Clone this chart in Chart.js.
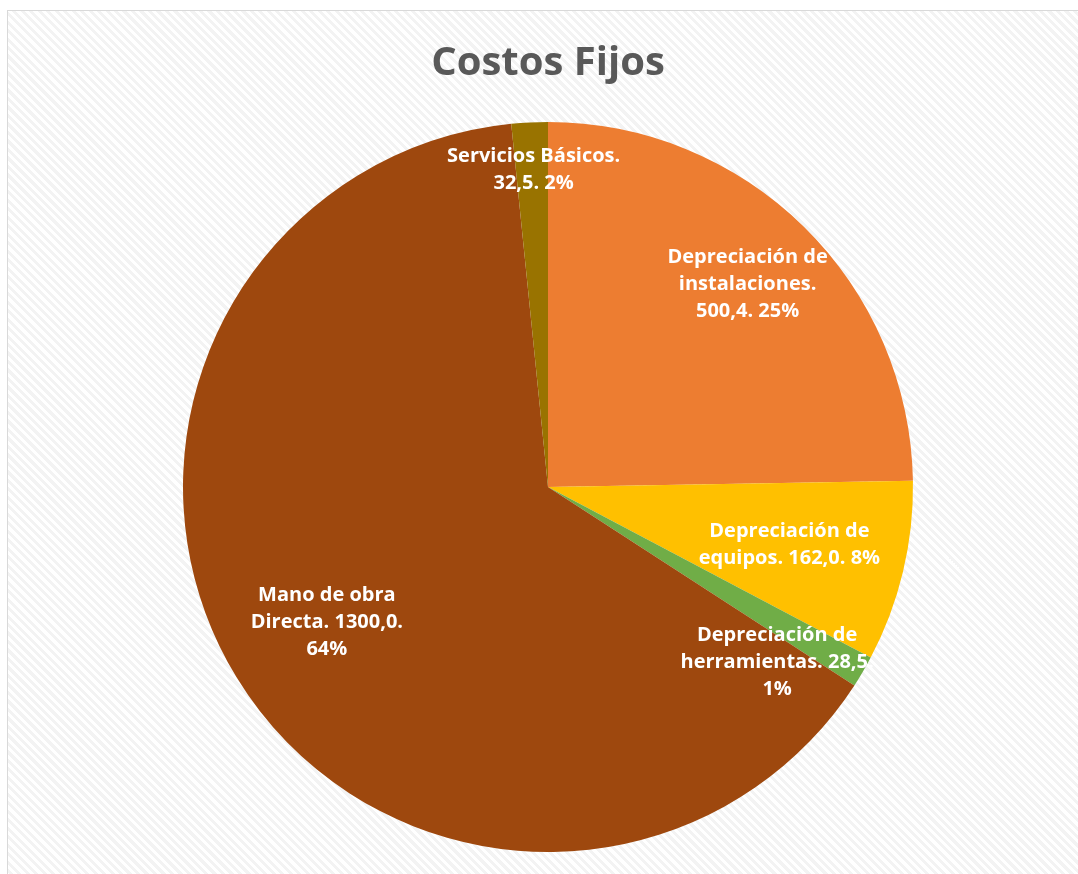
<!DOCTYPE html>
<html>
<head>
<meta charset="utf-8">
<script src="https://cdn.jsdelivr.net/npm/chart.js@4"></script>
<style>
  html, body { margin: 0; padding: 0; width: 1078px; height: 874px; overflow: hidden; background: #fff; }
  #marco {
    position: absolute; left: 7px; top: 10px; width: 1100px; height: 900px;
    border: 1px solid #d9d9d9;
    background: repeating-linear-gradient(45deg, #ffffff 0px, #ffffff 3px, #f3f3f3 3px, #f3f3f3 6px);
  }
  #grafico { position: absolute; left: 0; top: 0; }
</style>
</head>
<body>
<div id="marco"></div>
<canvas id="grafico" width="1078" height="874"></canvas>
<script>
// Datos del gráfico
const categorias = [
  'Depreciación de instalaciones',
  'Depreciación de equipos',
  'Depreciación de herramientas',
  'Mano de obra Directa',
  'Servicios Básicos'
];
const valores = [500.4, 162.0, 28.5, 1300.0, 32.5];
const colores = ['#ED7D31', '#FFC000', '#70AD47', '#9E480E', '#997300'];

// líneas de cada etiqueta (texto como en el original)
const etiquetas = [
  ['Depreciación de', 'instalaciones.', '500,4. 25%'],
  ['Depreciación de', 'equipos. 162,0. 8%'],
  ['Depreciación de', 'herramientas. 28,5.', '1%'],
  ['Mano de obra', 'Directa. 1300,0.', '64%'],
  ['Servicios Básicos.', '32,5. 2%']
];

// ubicación de cada etiqueta: fracción del radio y ajuste de ángulo (grados)
const ubicacion = [
  { r: 0.78, a: 0 },
  { r: 0.68, a: 0 },
  { r: 0.79, a: 7 },
  { r: 0.71, a: 0 },
  { r: 0.87, a: 0.3 }
];

const etiquetasPlugin = {
  id: 'etiquetas',
  afterDatasetsDraw(chart) {
    const ctx = chart.ctx;
    const meta = chart.getDatasetMeta(0);
    ctx.save();
    ctx.font = 'bold 20px "Open Sans", sans-serif';
    ctx.fillStyle = '#ffffff';
    ctx.textAlign = 'center';
    ctx.textBaseline = 'middle';
    meta.data.forEach((arc, i) => {
      const p = arc.getProps(['x', 'y', 'startAngle', 'endAngle', 'outerRadius'], true);
      const ang = (p.startAngle + p.endAngle) / 2 + ubicacion[i].a * Math.PI / 180;
      const cx = p.x + Math.cos(ang) * p.outerRadius * ubicacion[i].r;
      const cy = p.y + Math.sin(ang) * p.outerRadius * ubicacion[i].r;
      const lineas = etiquetas[i];
      const alto = 27;
      lineas.forEach((t, k) => {
        ctx.fillText(t, cx, cy + (k - (lineas.length - 1) / 2) * alto);
      });
    });
    ctx.restore();
  }
};

const ctx = document.getElementById('grafico');

new Chart(ctx, {
  type: 'pie',
  data: {
    labels: categorias,
    datasets: [{
      data: valores,
      backgroundColor: colores,
      borderWidth: 0
    }]
  },
  options: {
    responsive: false,
    animation: false,
    layout: { padding: { left: 183, right: 165, top: 0, bottom: 22 } },
    plugins: {
      legend: { display: false },
      tooltip: { enabled: false },
      title: {
        display: true,
        text: 'Costos Fijos',
        color: '#595959',
        font: { family: '"Open Sans", sans-serif', size: 40, weight: 'bold' },
        padding: { top: 40, bottom: 34 }
      }
    }
  },
  plugins: [etiquetasPlugin]
});
</script>
</body>
</html>
